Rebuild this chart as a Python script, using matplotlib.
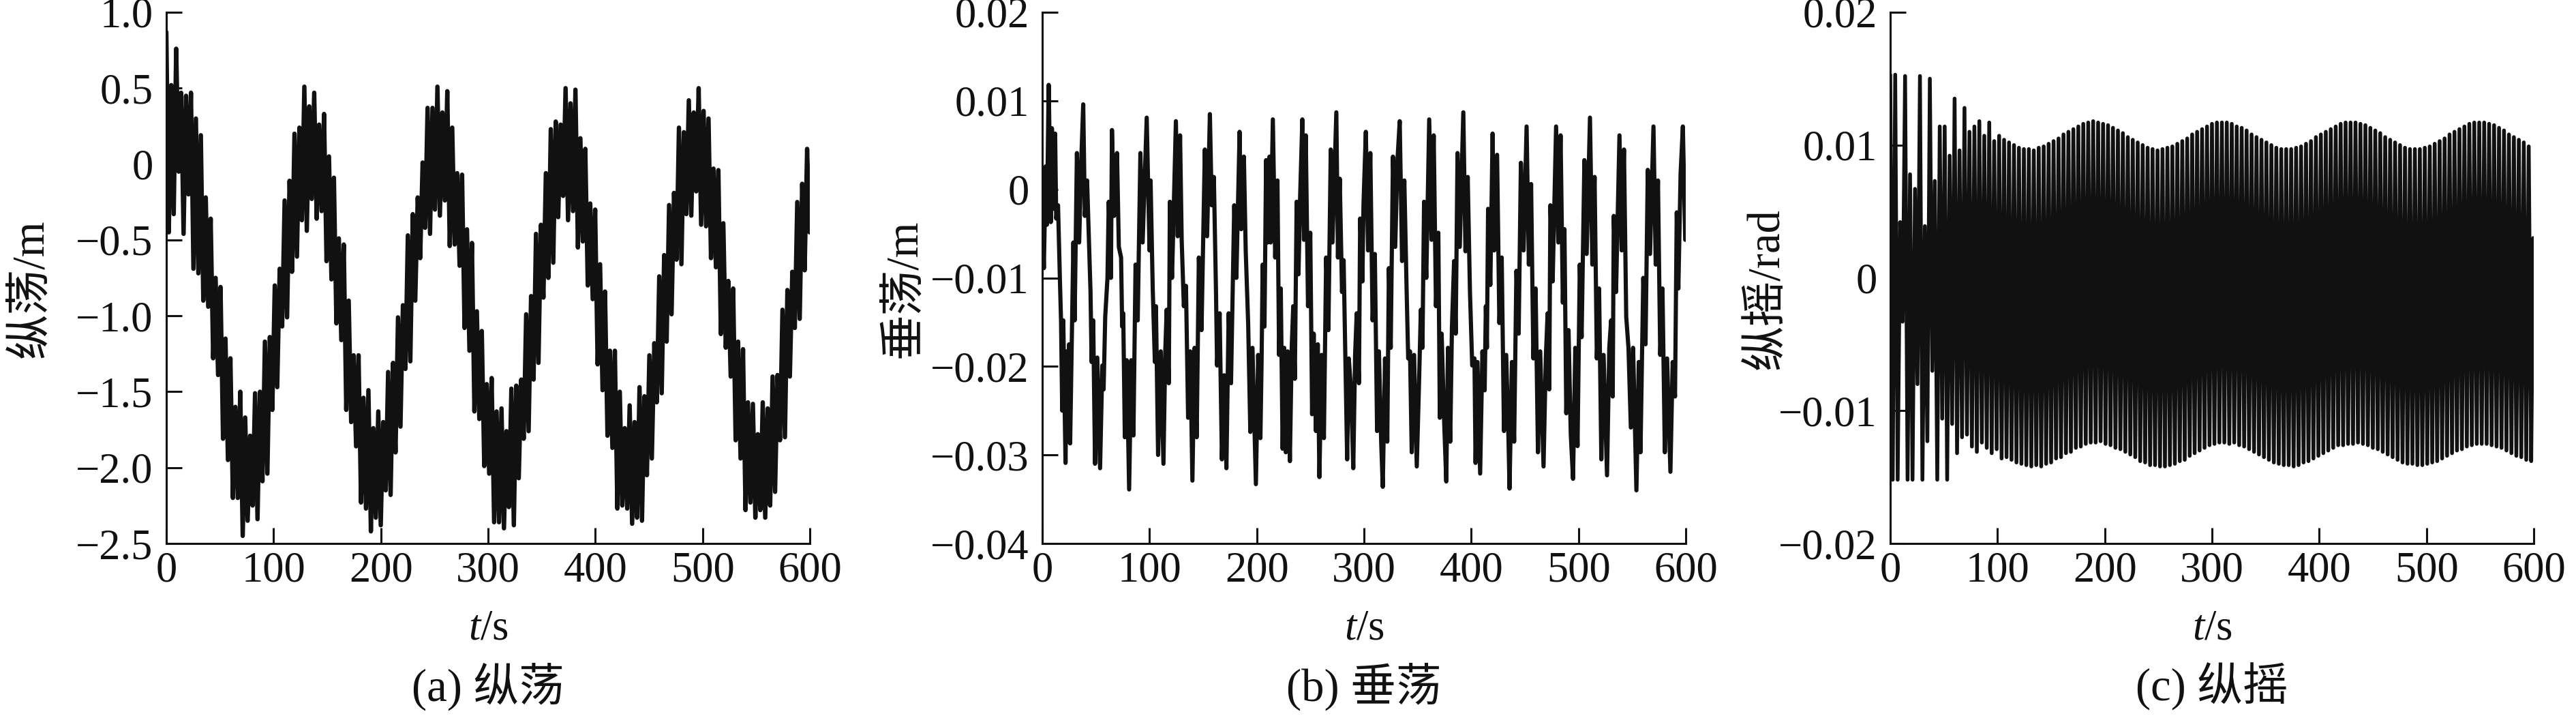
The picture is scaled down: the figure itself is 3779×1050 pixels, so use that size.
import numpy as np
import matplotlib
matplotlib.use("Agg")
import matplotlib.pyplot as plt

# ---------------- data ----------------
# (a) surge: spike tips of the fast oscillation, one up tip and one down tip per step
SURGE_DT = 4.596   # s between successive up tips
surge_upper = [
    0.87, 0.52, 0.76, 0.47, 0.45, 0.47, 0.30, 0.19, -0.22, -0.36, -0.75, -0.81, -1.15,
    -1.28, -1.60, -1.50, -1.67, -1.79, -1.51, -1.50, -1.17, -1.14, -0.80, -0.69, -0.24, -0.11,
    0.20, 0.24, 0.51, 0.38, 0.47, 0.26, 0.33, 0.05, -0.09, -0.49, -0.53, -0.90, -1.26,
    -1.26, -1.54, -1.49, -1.74, -1.63, -1.70, -1.37, -1.31, -1.01, -0.93, -0.47, -0.33, -0.22,
    0.01, 0.37, 0.37, 0.51, 0.34, 0.48, 0.24, -0.06, -0.07, -0.43, -0.52, -0.97, -1.10,
    -1.45, -1.41, -1.63, -1.61, -1.76, -1.48, -1.46, -1.42, -0.99, -0.87, -0.46, -0.40, -0.06,
    0.23, 0.28, 0.26, 0.50, 0.40, 0.49, 0.17, 0.10, -0.26, -0.30, -0.66, -0.84, -1.23,
    -1.23, -1.50, -1.74, -1.59, -1.70, -1.47, -1.53, -1.26, -1.18, -0.74, -0.60, -0.27, -0.19,
    0.24, 0.21, 0.42, 0.34, 0.50, 0.35, 0.30, -0.03, -0.04, -0.39, -0.77, -0.82, -1.17,
    -1.22, -1.57, -1.58, -1.78, -1.57, -1.61, -1.40, -1.39, -0.96, -0.83, -0.71, -0.25, -0.13,
    0.10,
]
surge_lower = [
    -0.45, -0.33, -0.05, -0.46, -0.20, -0.69, -0.72, -0.90, -0.94, -1.28, -1.39, -1.81, -1.95,
    -2.20, -2.20, -2.45, -2.35, -2.25, -2.34, -2.09, -2.04, -1.62, -1.47, -1.07, -1.01, -0.71,
    -0.61, -0.37, -0.44, -0.23, -0.36, -0.31, -0.64, -0.76, -1.05, -1.16, -1.62, -1.70, -1.86,
    -2.23, -2.27, -2.42, -2.33, -2.38, -2.15, -2.18, -1.90, -1.73, -1.35, -1.30, -0.90, -0.62,
    -0.42, -0.46, -0.30, -0.34, -0.24, -0.54, -0.53, -0.67, -1.08, -1.23, -1.63, -1.68, -1.99,
    -2.04, -2.36, -2.36, -2.40, -2.26, -2.38, -2.07, -1.81, -1.76, -1.42, -1.31, -0.88, -0.75,
    -0.65, -0.35, -0.21, -0.37, -0.31, -0.55, -0.51, -0.80, -0.89, -1.32, -1.49, -1.79, -1.87,
    -2.27, -2.25, -2.27, -2.37, -2.33, -2.35, -2.05, -1.94, -1.57, -1.51, -1.17, -0.99, -0.63,
    -0.66, -0.33, -0.34, -0.18, -0.40, -0.41, -0.62, -0.68, -1.12, -1.21, -1.40, -1.82, -1.94,
    -2.28, -2.23, -2.33, -2.28, -2.33, -2.25, -2.16, -1.82, -1.80, -1.40, -1.08, -1.02, -0.70,
    -0.45,
]

# (b) heave: turning points (time in s, heave in m)
heave_t = [
    0.0, 1.5, 3.2, 4.3, 6.0, 8.0, 9.0, 10.7, 12.0, 13.0, 14.7, 16.5, 17.5, 18.6, 19.6,
    21.7, 22.8, 23.9, 25.0, 26.0, 27.8, 29.0, 30.2, 32.3, 34.4, 36.5, 38.2, 39.7, 41.8,
    44.0, 45.0, 46.0, 47.5, 49.2, 51.3, 53.9, 56.0, 57.2, 58.7, 60.8, 62.0, 64.0, 65.0,
    67.0, 69.7, 71.4, 73.5, 74.5, 75.5, 77.0, 78.8, 81.0, 83.0, 85.0, 87.0, 89.0, 91.5,
    93.6, 97.4, 100.0, 101.0, 103.0, 105.0, 106.0, 108.0, 110.5, 113.0, 114.7, 116.0,
    118.0, 119.0, 121.0, 124.6, 126.3, 128.5, 130.0, 132.0, 134.0, 136.0, 138.0, 140.0,
    142.0, 144.0, 146.0, 148.5, 151.6, 153.7, 156.3, 158.0, 160.0, 162.0, 163.0, 165.4,
    167.5, 169.6, 171.7, 173.8, 176.0, 179.0, 181.0, 184.0, 185.5, 188.0, 189.7, 192.0,
    194.0, 196.0, 199.2, 201.3, 203.4, 204.5, 205.5, 207.2, 208.7, 210.2, 211.9, 213.0,
    215.0, 217.2, 219.3, 220.8, 222.4, 224.1, 225.6, 227.1, 228.8, 230.9, 232.6, 234.0,
    235.5, 237.2, 238.9, 240.4, 242.5, 244.0, 245.7, 247.8, 249.9, 251.6, 253.1, 255.2,
    256.9, 258.4, 260.5, 262.6, 264.7, 266.8, 269.0, 270.6, 274.2, 275.7, 277.4, 279.5,
    281.0, 282.7, 284.3, 285.8, 287.9, 290.0, 291.7, 293.2, 295.3, 296.4, 298.5, 299.5,
    301.7, 303.8, 305.9, 308.0, 310.1, 312.2, 313.9, 316.0, 317.5, 319.6, 321.7, 323.2,
    324.9, 327.0, 329.1, 331.2, 333.3, 335.5, 337.6, 339.7, 341.2, 342.9, 344.5, 346.7,
    349.2, 351.3, 353.0, 354.5, 356.0, 358.1, 360.8, 363.0, 365.0, 367.1, 369.3, 370.7,
    372.4, 374.5, 376.7, 378.3, 380.4, 382.0, 384.0, 385.5, 387.2, 389.3, 392.6, 394.6,
    396.7, 398.8, 400.9, 403.0, 404.0, 405.8, 408.3, 410.4, 412.5, 413.6, 414.6, 415.7,
    417.8, 419.9, 421.4, 424.1, 426.2, 428.4, 430.5, 432.6, 434.7, 435.7, 437.9, 440.0,
    442.1, 444.2, 446.3, 448.8, 451.6, 453.7, 455.8, 457.9, 460.0, 462.2, 464.3, 467.4,
    469.5, 471.2, 472.7, 473.8, 475.9, 479.1, 481.2, 483.3, 485.4, 486.9, 488.6, 490.7,
    492.8, 494.9, 497.0, 499.1, 501.2, 502.9, 505.5, 507.6, 510.7, 512.9, 515.0, 517.1,
    519.2, 521.3, 523.4, 526.6, 528.7, 530.4, 531.9, 532.9, 535.0, 538.2, 540.3, 542.4,
    544.5, 546.6, 548.8, 550.9, 554.0, 556.2, 557.8, 560.4, 562.5, 564.6, 566.7, 569.9,
    572.0, 574.1, 576.2, 578.3, 580.5, 582.6, 585.7, 587.8, 590.0, 591.6, 593.1, 595.2,
    597.3, 599.5,
]
heave_v = [
    -0.0030, -0.0089, 0.0026, -0.0040, 0.0118, -0.0037, 0.0069, -0.0022, 0.0063, -0.0033,
    -0.0018, -0.0104, -0.0148, -0.0250, -0.0148,
    -0.0309, -0.0183, -0.0285, -0.0175, -0.0287, -0.0148, -0.0060, -0.0148, 0.0041, -0.0060,
    0.0037, 0.0096, -0.0030, 0.0010,
    -0.0077, -0.0116, -0.0195, -0.0148, -0.0310, -0.0190, -0.0315, -0.0199, -0.0226, -0.0144,
    -0.0100, -0.0014, -0.0100, 0.0067,
    -0.0030, 0.0041, -0.0065, -0.0077, -0.0155, -0.0140, -0.0280, -0.0193, -0.0339, -0.0193,
    -0.0278, -0.0085, -0.0148, 0.0041,
    -0.0060, 0.0081, -0.0069, 0.0010, -0.0112, -0.0195, -0.0132, -0.0300, -0.0183, -0.0310,
    -0.0183, -0.0136,
    -0.0219, -0.0014, -0.0100, 0.0077, -0.0053, 0.0061, -0.0057, -0.0132, -0.0109, -0.0258,
    -0.0183, -0.0329,
    -0.0179, -0.0280, -0.0077, -0.0159, 0.0045, -0.0053, 0.0085, -0.0018, 0.0014, -0.0116,
    -0.0199, -0.0140,
    -0.0305, -0.0210, -0.0315, -0.0140, -0.0219, -0.0018, -0.0100, 0.0065, -0.0045, 0.0037,
    -0.0069, -0.0152,
    -0.0274, -0.0179, -0.0333, -0.0187, -0.0281, -0.0195, -0.0085, -0.0155, 0.0033, -0.0060,
    0.0037, -0.0060,
    0.0079, -0.0077, 0.0010, -0.0187, -0.0112, -0.0293, -0.0179, -0.0297, -0.0183, -0.0307,
    -0.0179, -0.0132,
    -0.0214, -0.0014, -0.0096, -0.0010, 0.0079, -0.0057, 0.0061, -0.0132, -0.0049, -0.0254,
    -0.0163, -0.0273,
    -0.0175, -0.0325, -0.0187, -0.0281, -0.0077, -0.0159, 0.0045, -0.0060, 0.0087, -0.0077,
    0.0012, -0.0116,
    -0.0080, -0.0195, -0.0305, -0.0191, -0.0226, -0.0315, -0.0187, -0.0140, -0.0219, -0.0033,
    -0.0104, -0.0018,
    0.0065, -0.0069, 0.0041, -0.0148, -0.0073, -0.0273, -0.0183, -0.0285, -0.0336, -0.0191,
    -0.0285, -0.0089,
    -0.0179, 0.0037, -0.0065, 0.0033, 0.0077, -0.0081, 0.0010, -0.0112, -0.0191, -0.0183,
    -0.0297, -0.0187,
    -0.0313, -0.0219, -0.0136, -0.0179, -0.0014, -0.0100, 0.0079, -0.0057, 0.0061, -0.0132,
    -0.0049, -0.0258,
    -0.0163, -0.0254, -0.0330, -0.0179, -0.0285, -0.0155, -0.0081, -0.0163, 0.0041, -0.0065,
    0.0087, -0.0070,
    0.0014, -0.0116, -0.0199, -0.0191, -0.0309, -0.0195, -0.0321, -0.0183, -0.0227, -0.0132,
    -0.0179, -0.0022,
    -0.0108, 0.0063, -0.0069, 0.0039, -0.0151, -0.0077, -0.0273, -0.0187, -0.0281, -0.0338,
    -0.0195, -0.0285,
    -0.0092, -0.0163, 0.0030, -0.0069, 0.0071, -0.0085, 0.0006, -0.0191, -0.0112, -0.0297,
    -0.0183, -0.0313,
    -0.0191, -0.0140, -0.0226, -0.0018, -0.0104, 0.0071, -0.0060, 0.0061, -0.0128, -0.0045,
    -0.0253, -0.0159,
    -0.0277, -0.0327, -0.0179, -0.0290, -0.0085, -0.0167, 0.0033, -0.0073, 0.0081, -0.0085,
    0.0014, -0.0191,
    -0.0112, -0.0305, -0.0187, -0.0323, -0.0179, -0.0148, -0.0234, -0.0030, -0.0116, 0.0061,
    -0.0069, 0.0045,
    -0.0144, -0.0179, -0.0269, -0.0179, -0.0340, -0.0195, -0.0297, -0.0100, -0.0175, 0.0022,
    -0.0073, 0.0071,
    -0.0085, 0.0010, -0.0187, -0.0112, -0.0297, -0.0191, -0.0319, -0.0195, -0.0234, -0.0026,
    -0.0112, 0.0018,
    0.0071, -0.0057,
]

# (c) pitch: spike tips in mrad, one up tip and one down tip per step
PITCH_DT = 4.615
pitch_upper_mrad = [
    15.3, 15.3, 4.2, 15.2, 7.8, 6.7, 15.2, 3.9, 15.0, 7.3, 11.4, 11.4, 9.2, 13.5, 9.6, 12.8,
    11.0, 11.4, 11.8, 10.7, 11.7, 10.3, 10.7,
    10.4, 10.2, 10.0, 9.8, 9.7, 9.7, 9.6, 9.8, 9.9, 10.1, 10.3, 10.5, 10.8, 11.0, 11.2, 11.4,
    11.6, 11.7, 11.8, 11.7, 11.6, 11.5, 11.3, 11.1, 10.9, 10.6, 10.4, 10.2, 10.0,
    9.8, 9.7, 9.6, 9.7, 9.8, 9.9, 10.1, 10.3, 10.5, 10.8, 11.0, 11.2, 11.4,
    11.6, 11.7, 11.7, 11.7, 11.6, 11.4, 11.3, 11.1, 10.8, 10.6, 10.4, 10.2, 10.0,
    9.8, 9.7, 9.7, 9.7, 9.8, 9.9, 10.1, 10.3, 10.6, 10.8, 11.0, 11.2, 11.4,
    11.6, 11.7, 11.7, 11.7, 11.6, 11.5, 11.3, 11.1, 10.9, 10.6, 10.4, 10.2, 10.0,
    9.8, 9.7, 9.7, 9.7, 9.8, 9.9, 10.1, 10.3, 10.5, 10.8, 11.0, 11.2, 11.4,
    11.6, 11.7, 11.7, 11.7, 11.6, 11.5, 11.3, 11.1, 10.8, 10.6, 10.4, 10.2, 9.9,
]
pitch_lower_mrad = [
    -15.2, -15.2, -3.3, -15.2, -15.2, -8.0, -15.2, -12.3, -7.0, -15.2, -10.6, -15.2, -11.0,
    -13.2, -12.0, -11.8, -12.7, -13.1, -12.4, -12.8, -13.2, -12.9, -13.6,
    -13.5, -13.7, -13.9, -14.0, -14.1, -14.2, -14.1, -14.2, -14.0, -13.9, -13.6, -13.5, -13.2,
    -13.1, -12.8, -12.7, -12.5, -12.4, -12.4, -12.3, -12.5, -12.6, -12.8, -12.9, -13.1, -13.3,
    -13.5, -13.8, -13.9,
    -14.1, -14.1, -14.2, -14.2, -14.1, -14.0, -13.8, -13.7, -13.4, -13.2, -13.0, -12.8, -12.6,
    -12.5, -12.4, -12.4, -12.5, -12.4, -12.6, -12.7, -12.9, -13.1, -13.3, -13.5, -13.7, -13.9,
    -14.0, -14.1, -14.1, -14.2, -14.1, -13.9, -13.8, -13.6, -13.4, -13.2, -13.0, -12.8, -12.6,
    -12.6, -12.5, -12.5, -12.4, -12.5, -12.6, -12.8, -12.9, -13.1, -13.3, -13.5, -13.7, -13.9,
    -14.0, -14.0, -14.1, -14.1, -14.0, -13.9, -13.8, -13.6, -13.4, -13.2, -13.0, -12.9, -12.7,
    -12.6, -12.5, -12.5, -12.5, -12.6, -12.7, -12.8, -13.0, -13.2, -13.4, -13.5, -13.7, -13.8,
]
pitch_end_t, pitch_end_mrad = 599.5, 3.0

# axis texts
x_ticks = [0, 100, 200, 300, 400, 500, 600]
surge_yticks = [1.0, 0.5, 0.0, -0.5, -1.0, -1.5, -2.0, -2.5]
surge_ylabels = ["1.0", "0.5", "0", "\u22120.5", "\u22121.0", "\u22121.5", "\u22122.0", "\u22122.5"]
heave_yticks = [0.02, 0.01, 0.0, -0.01, -0.02, -0.03, -0.04]
heave_ylabels = ["0.02", "0.01", "0", "\u22120.01", "\u22120.02", "\u22120.03", "\u22120.04"]
pitch_yticks = [0.02, 0.01, 0.0, -0.01, -0.02]
pitch_ylabels = ["0.02", "0.01", "0", "\u22120.01", "\u22120.02"]
ylabels = ["纵荡/m", "垂荡/m", "纵摇/rad"]
captions = ["(a) 纵荡", "(b) 垂荡", "(c) 纵摇"]


def zigzag(upper, lower, dt):
    n = len(upper)
    t = np.empty(2 * n)
    v = np.empty(2 * n)
    t[0::2] = np.arange(n) * dt
    t[1::2] = np.arange(n) * dt + dt / 2.0
    v[0::2] = upper
    v[1::2] = lower
    return t, v


# ---------------- figure ----------------
plt.rcParams["font.family"] = ["Liberation Serif", "Noto Sans CJK SC"]
plt.rcParams["mathtext.fontset"] = "custom"
plt.rcParams["mathtext.rm"] = "Liberation Serif"
plt.rcParams["mathtext.it"] = "Liberation Serif:italic"

W, H = 3779, 1050
fig = plt.figure(figsize=(W / 100, H / 100), dpi=100)

ax_left_px = [244, 1529, 2773]
ax_w_px = 944
ax_top_px, ax_bot_px = 18, 797
label_x = [-0.178, -0.182, -0.158]
line_widths = [4.6, 4.4, 4.0]

FS = 45
FS_CJK = 48
LINE = "#111111"

ta, va = zigzag(surge_upper, surge_lower, SURGE_DT)
tc, vc = zigzag(pitch_upper_mrad, pitch_lower_mrad, PITCH_DT)
tc = np.append(tc, pitch_end_t)
vc = np.append(vc, pitch_end_mrad) * 1e-3

series = [(ta, va), (np.array(heave_t), np.array(heave_v)), (tc, vc)]
yspecs = [
    ((-2.5, 1.0), surge_yticks, surge_ylabels),
    ((-0.04, 0.02), heave_yticks, heave_ylabels),
    ((-0.02, 0.02), pitch_yticks, pitch_ylabels),
]

for i in range(3):
    rect = [ax_left_px[i] / W, 1 - ax_bot_px / H, ax_w_px / W, (ax_bot_px - ax_top_px) / H]
    ax = fig.add_axes(rect)
    t, v = series[i]
    ax.plot(t, v, color=LINE, lw=line_widths[i], solid_joinstyle="round",
            solid_capstyle="round", clip_on=True)
    (ylo, yhi), yt, yl = yspecs[i]
    ax.set_xlim(0, 600)
    ax.set_ylim(ylo, yhi)
    ax.set_xticks(x_ticks)
    ax.set_xticklabels([str(x) for x in x_ticks])
    ax.set_yticks(yt)
    ax.set_yticklabels(yl)
    for s in ["top", "right"]:
        ax.spines[s].set_visible(False)
    for s in ["left", "bottom"]:
        ax.spines[s].set_linewidth(2.2)
        ax.spines[s].set_color(LINE)
    ax.tick_params(axis="both", direction="in", length=16.5, width=2.2, color=LINE,
                   labelsize=FS, labelcolor=LINE)
    ax.tick_params(axis="x", pad=8)
    ax.tick_params(axis="y", pad=14)
    ax.set_ylabel(ylabels[i], fontsize=FS_CJK, color=LINE)
    ax.yaxis.set_label_coords(label_x[i], 0.48)
    cx = (ax_left_px[i] + ax_w_px / 2) / W
    fig.text(cx, 1 - 922 / H, r"$t$/s", fontsize=FS, color=LINE, ha="center", va="center")
    fig.text(cx, 1 - 1007 / H, captions[i], fontsize=FS_CJK, color=LINE, ha="center", va="center")

fig.savefig("out.png", dpi=100, facecolor="white")
